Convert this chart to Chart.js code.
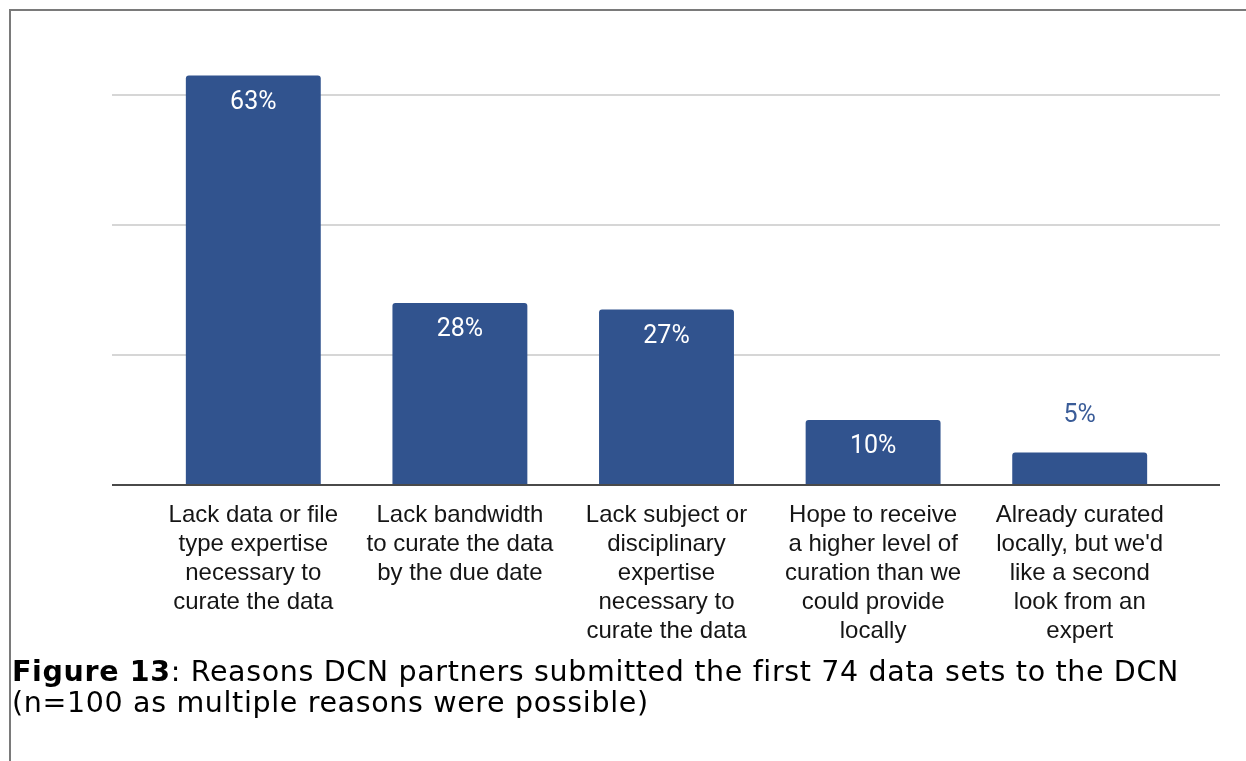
<!DOCTYPE html>
<html>
<head>
<meta charset="utf-8">
<script src="https://cdn.jsdelivr.net/npm/chart.js@4/dist/chart.umd.min.js"></script>
<style>
  html, body { margin: 0; padding: 0; background: #fff; }
  #wrap { position: relative; width: 1246px; height: 761px; overflow: hidden; }
  #frame { position: absolute; left: 9px; top: 9px; width: 1250px; height: 800px;
           border-left: 2px solid #7a7a7a; border-top: 2px solid #7a7a7a; box-sizing: border-box; }
  #chart { position: absolute; left: 0; top: 0; }
  #caption { position: absolute; left: 12px; top: 656px; width: 1230px; white-space: nowrap;
             font-family: "DejaVu Sans", Verdana, sans-serif; font-size: 28.5px; line-height: 31px;
             letter-spacing: 0.65px; font-variant-ligatures: none; color: #000; }
</style>
</head>
<body>
<div id="wrap">
  <div id="frame"></div>
  <canvas id="chart" width="1246" height="761"></canvas>
  <div id="caption"><b>Figure 13</b>: Reasons DCN partners submitted the first 74 data sets to the DCN<br>(n=100 as multiple reasons were possible)</div>
</div>
<script>
// Share of reasons (%) given for submitting data sets
const reasons = [
  ["Lack data or file", "type expertise", "necessary to", "curate the data"],
  ["Lack bandwidth", "to curate the data", "by the due date"],
  ["Lack subject or", "disciplinary", "expertise", "necessary to", "curate the data"],
  ["Hope to receive", "a higher level of", "curation than we", "could provide", "locally"],
  ["Already curated", "locally, but we'd", "like a second", "look from an", "expert"]
];
const shares = [63, 28, 27, 10, 5];
const gridValues = [20, 40, 60];

const BAR = '#31538e';

// Horizontal guides reach past the plotting area on both sides
const guideLines = {
  id: 'guideLines',
  beforeDatasetsDraw(chart) {
    const { ctx, scales: { y } } = chart;
    ctx.save();
    ctx.strokeStyle = '#d6d6d6';
    ctx.lineWidth = 2;
    gridValues.forEach(v => {
      const py = Math.round(y.getPixelForValue(v));
      ctx.beginPath(); ctx.moveTo(112, py); ctx.lineTo(1220, py); ctx.stroke();
    });
    ctx.restore();
  },
  afterDatasetsDraw(chart) {
    const { ctx, scales: { y } } = chart;
    const py = Math.round(y.getPixelForValue(0));
    ctx.save();
    ctx.strokeStyle = '#4a4a4a';
    ctx.lineWidth = 2;
    ctx.beginPath(); ctx.moveTo(112, py); ctx.lineTo(1220, py); ctx.stroke();
    ctx.restore();
  }
};

// Percentage labels: inside the bar when it is tall enough, above it otherwise
const valueLabels = {
  id: 'valueLabels',
  afterDatasetsDraw(chart) {
    const { ctx } = chart;
    const meta = chart.getDatasetMeta(0);
    ctx.save();
    ctx.font = '25px Roboto, sans-serif';
    ctx.textAlign = 'center';
    ctx.textBaseline = 'middle';
    meta.data.forEach((bar, i) => {
      const h = bar.base - bar.y;
      if (h > 50) {
        ctx.fillStyle = '#ffffff';
        ctx.fillText(shares[i] + '%', bar.x, bar.y + 27);
      } else {
        ctx.fillStyle = '#3a5c98';
        ctx.fillText(shares[i] + '%', bar.x, bar.y - 37);
      }
    });
    ctx.restore();
  }
};

new Chart(document.getElementById('chart'), {
  type: 'bar',
  data: {
    labels: reasons,
    datasets: [{
      data: shares,
      backgroundColor: BAR,
      borderRadius: { topLeft: 3, topRight: 3, bottomLeft: 0, bottomRight: 0 },
      borderSkipped: 'bottom',
      barPercentage: 0.653,
      categoryPercentage: 1.0
    }]
  },
  options: {
    responsive: false,
    animation: false,
    layout: { padding: { left: 150, right: 63, top: 30, bottom: 76 } },
    plugins: { legend: { display: false }, tooltip: { enabled: false } },
    scales: {
      x: {
        grid: { display: false },
        border: { display: false },
        ticks: {
          color: '#151515',
          font: { family: 'Liberation Sans, Arial, sans-serif', size: 24, lineHeight: 1.21 },
          padding: 8,
          maxRotation: 0,
          autoSkip: false
        },
        afterFit(scale) { scale.height = 200; }
      },
      y: {
        min: 0, max: 70,
        display: false,
        grid: { display: false }
      }
    }
  },
  plugins: [guideLines, valueLabels]
});
</script>
</body>
</html>
